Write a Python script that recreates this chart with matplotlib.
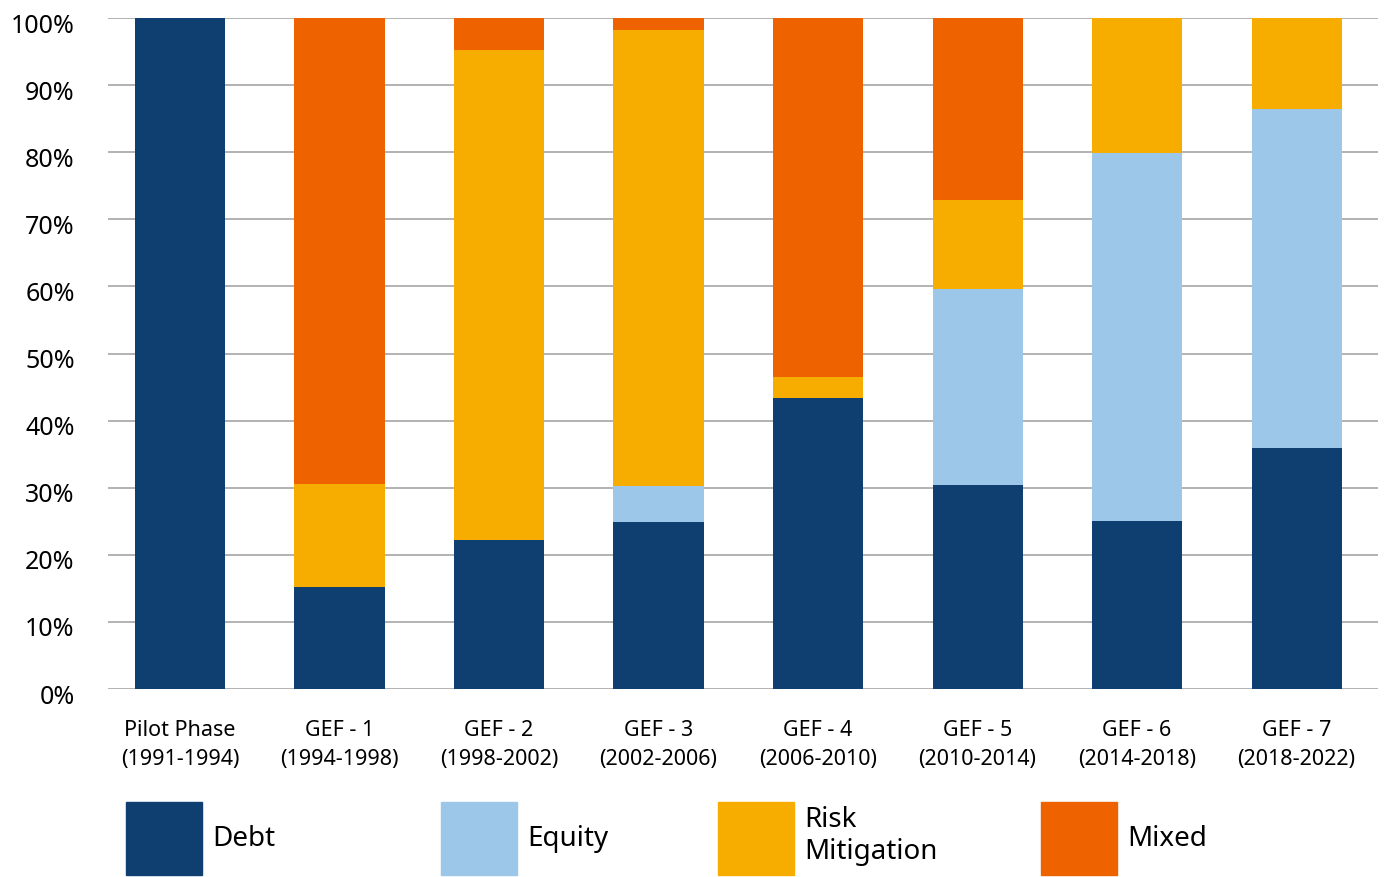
import matplotlib
matplotlib.use("Agg")
import matplotlib.pyplot as plt
import matplotlib.patches as mpatches
import matplotlib.transforms as mtransforms
import numpy as np

plt.rcParams['font.family'] = ['Noto Sans', 'DejaVu Sans']

# Data (share of projects, %)
phases = ['Pilot Phase\n(1991-1994)', 'GEF - 1\n(1994-1998)', 'GEF - 2\n(1998-2002)',
          'GEF - 3\n(2002-2006)', 'GEF - 4\n(2006-2010)', 'GEF - 5\n(2010-2014)',
          'GEF - 6\n(2014-2018)', 'GEF - 7\n(2018-2022)']
debt = [100.0, 15.2, 22.2, 24.9, 43.4, 30.4, 25.0, 35.9]
equity = [0.0, 0.0, 0.0, 5.4, 0.0, 29.2, 54.9, 50.5]
risk = [0.0, 15.3, 73.0, 67.9, 3.1, 13.3, 20.1, 13.6]
mixed = [0.0, 69.5, 4.8, 1.8, 53.5, 27.1, 0.0, 0.0]

series = [('Debt', debt, '#0F3F71'),
          ('Equity', equity, '#9DC7E9'),
          ('Risk\nMitigation', risk, '#F7AD00'),
          ('Mixed', mixed, '#EE6300')]

fig = plt.figure(figsize=(13.86, 8.77), dpi=100)
ax = fig.add_axes([108/1386, 188/877, 1270/1386, 671/877])

x = np.arange(len(phases))
bottom = np.zeros(len(phases))
handles = []
for name, vals, col in series:
    ax.bar(x, vals, width=0.565, bottom=bottom, color=col, zorder=2)
    bottom += np.array(vals)
    handles.append(mpatches.Patch(color=col, label=name))

ax.set_xlim(-0.451, 7.51)
ax.set_ylim(0, 100)
ax.set_yticks(np.arange(0, 101, 10))
ax.set_yticklabels([f'{v}%' for v in range(0, 101, 10)], fontsize=18)
ax.set_xticks(x)
ax.set_xticklabels(phases, fontsize=15.5, linespacing=1.5)
ax.tick_params(axis='y', length=0, pad=24)
ax.tick_params(axis='x', length=0, pad=22)
ax.grid(axis='y', color='#A6A6A6', linewidth=1.2, zorder=0)
for s in ax.spines.values():
    s.set_visible(False)

# nudge y labels slightly down like the original
off = mtransforms.ScaledTranslation(0, -5/100, fig.dpi_scale_trans)
for lab in ax.get_yticklabels():
    lab.set_transform(lab.get_transform() + off)

# legend items placed individually
legend_x = [126, 441, 718, 1041]
for h, lx in zip(handles, legend_x):
    fig.legend(handles=[h], loc='upper left', bbox_to_anchor=(lx/1386, 1 - 802/877),
               frameon=False, fontsize=20, handlelength=2.75, handleheight=3.67,
               handletextpad=0.35, borderpad=0, borderaxespad=0, labelspacing=0)

fig.savefig('out.png', dpi=100)
